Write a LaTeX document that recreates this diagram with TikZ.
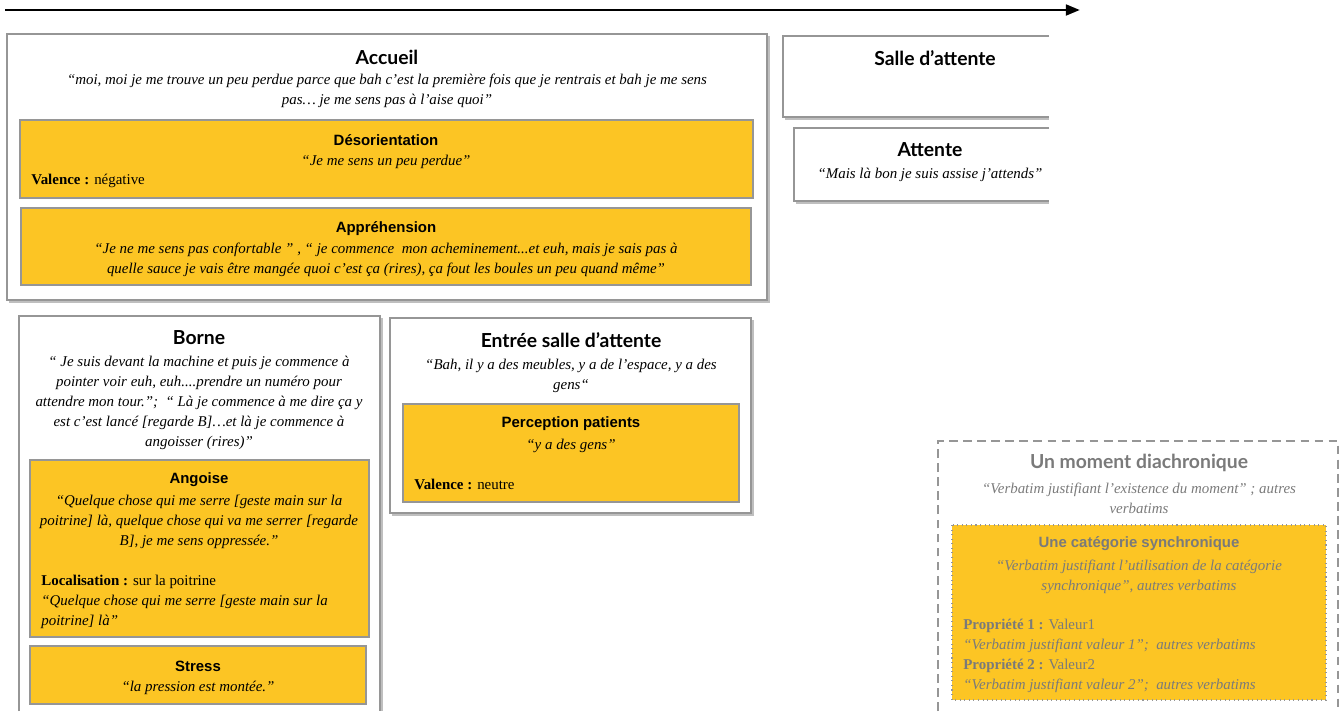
\documentclass[tikz,border=0pt]{standalone}
\usepackage{fontspec}
\usepackage{tikz}
\usetikzlibrary{arrows.meta,positioning}
\setmainfont{Liberation Serif}
\newfontfamily\titlefont{Lato}
\newfontfamily\catfont{Liberation Sans}
\definecolor{jaune}{RGB}{252,197,36}
\definecolor{bord}{RGB}{150,150,150}
\definecolor{gristexte}{RGB}{122,122,122}

\tikzset{
	momentbox/.style = {draw=bord, line width=0.9pt},
	ombre/.style = {draw=black!25, line width=0.8pt},
	catbox/.style = {draw=bord, line width=0.6pt, fill=jaune},
	titre/.style = {inner sep=0pt, font=\titlefont\bfseries\fontsize{11}{13}\selectfont},
	cattitre/.style = {inner sep=0pt, font=\catfont\bfseries\fontsize{8.5}{10}\selectfont},
	citation/.style = {inner sep=0pt, yshift=-1pt, align=center, font=\itshape\fontsize{8.5}{11.4}\selectfont},
	propriete/.style = {inner sep=0pt, yshift=-0.5pt, anchor=west, align=left, font=\fontsize{8.5}{11.4}\selectfont},
	fleche/.style = {line width=1.7pt, -{Triangle[length=8pt, width=6pt]}}
}

\begin{document}
\begin{tikzpicture}[x=0.02cm, y=-0.02cm]
		\useasboundingbox (0,0) rectangle (1342,711);
		% axe du temps
		\coordinate (debut) at (5,10);
		\coordinate (fin) at (1080,10);
		\draw[fleche] (debut) -- (fin);

		% Accueil
		\draw[ombre] (9,302) -- (769,302) -- (769,36);
		\draw[momentbox, fill=white] (7,34) rectangle (767,300);
		\node[titre] (accueil) at (387,57) {Accueil};
		\node[citation] (accueil-cit) at (387,89) {“moi, moi je me trouve un peu perdue parce que bah c’est la première fois que je rentrais et bah je me sens\\ pas… je me sens pas à l’aise quoi”};
		\draw[catbox] (20,120) rectangle (753,198);
		\node[cattitre] (deso) at (386,140) {Désorientation};
		\node[citation] (deso-cit) at (386,160) {“Je me sens un peu perdue”};
		\node[propriete] (deso-val) at (31,180) {\textbf{Valence :} négative};
		\draw[catbox] (21,208) rectangle (751,285);
		\node[cattitre] (appre) at (386,229) {Appréhension};
		\node[citation] (appre-cit) at (386,258) {“Je ne me sens pas confortable ” , “ je commence\ \ mon acheminement...et euh, mais je sais pas à\\ quelle sauce je vais être mangée quoi c’est ça (rires), ça fout les boules un peu quand même”};

		% Salle d'attente (coupee a droite)
		\draw[ombre] (785,119) -- (1049,119);
		\draw[momentbox] (1049,36) -- (783,36) -- (783,117) -- (1049,117);
		\node[titre] (salle) at (935,58) {Salle d’attente};
		\draw[ombre] (796,203) -- (1049,203);
		\draw[momentbox] (1049,128) -- (794,128) -- (794,201) -- (1049,201);
		\node[titre] (attente) at (930,150) {Attente};
		\node[citation] (attente-cit) at (930,173) {“Mais là bon je suis assise j’attends”};

		% Borne
		\draw[ombre] (382,318) -- (382,711);
		\draw[momentbox, fill=white] (19,711) -- (19,316) -- (380,316) -- (380,711);
		\node[titre] (borne) at (199,338) {Borne};
		\node[citation] (borne-cit) at (199,401) {“ Je suis devant la machine et puis je commence à\\ pointer voir euh, euh....prendre un numéro pour\\ attendre mon tour.”;\ \ “ Là je commence à me dire ça y\\ est c’est lancé [regarde B]…et là je commence à\\ angoisser (rires)”};
		\draw[catbox] (30,460) rectangle (369,637);
		\node[cattitre] (angoise) at (199,480) {Angoise};
		\node[citation] (angoise-cit) at (199,520) {“Quelque chose qui me serre [geste main sur la\\ poitrine] là, quelque chose qui va me serrer [regarde\\ B], je me sens oppressée.”};
		\node[propriete] (angoise-loc) at (41,581) {\textbf{Localisation :} sur la poitrine};
		\node[propriete, font=\itshape\fontsize{8.5}{11.4}\selectfont] (angoise-loc-cit) at (41,611) {“Quelque chose qui me serre [geste main sur la\\ poitrine] là”};
		\draw[catbox] (30,646) rectangle (366,704);
		\node[cattitre] (stress) at (198,666) {Stress};
		\node[citation] (stress-cit) at (198,686) {“la pression est montée.”};

		% Entree salle d'attente
		\draw[ombre] (392,515) -- (753,515) -- (753,320);
		\draw[momentbox, fill=white] (390,318) rectangle (751,513);
		\node[titre] (entree) at (571,340) {Entrée salle d’attente};
		\node[citation] (entree-cit) at (571,374) {“Bah, il y a des meubles, y a de l’espace, y a des\\ gens“};
		\draw[catbox] (403,404) rectangle (739,502);
		\node[cattitre] (percep) at (571,424) {Perception patients};
		\node[citation] (percep-cit) at (571,444) {“y a des gens”};
		\node[propriete] (percep-val) at (414,484) {\textbf{Valence :} neutre};

		% legende
		\draw[momentbox, dashed, dash pattern=on 5pt off 3pt] (938,711) -- (938,441) -- (1338,441) -- (1338,711);
		\node[titre, text=gristexte] (moment) at (1139,463) {Un moment diachronique};
		\node[citation, text=gristexte] (moment-cit) at (1139,497) {“Verbatim justifiant l’existence du moment” ; autres\\ verbatims};
		\draw[catbox, dotted] (952,525) rectangle (1326,700);
		\node[cattitre, text=gristexte] (categorie) at (1139,544) {Une catégorie synchronique};
		\node[citation, text=gristexte] (categorie-cit) at (1139,575) {“Verbatim justifiant l’utilisation de la catégorie\\ synchronique”, autres verbatims};
		\node[propriete, text=gristexte] (prop1) at (963,625) {\textbf{Propriété 1 :} Valeur1};
		\node[propriete, text=gristexte, font=\itshape\fontsize{8.5}{11.4}\selectfont] (prop1-cit) at (963,645) {“Verbatim justifiant valeur 1”;\ \ autres verbatims};
		\node[propriete, text=gristexte] (prop2) at (963,665) {\textbf{Propriété 2 :} Valeur2};
		\node[propriete, text=gristexte, font=\itshape\fontsize{8.5}{11.4}\selectfont] (prop2-cit) at (963,685) {“Verbatim justifiant valeur 2”;\ \ autres verbatims};
	\end{tikzpicture}
\end{document}
